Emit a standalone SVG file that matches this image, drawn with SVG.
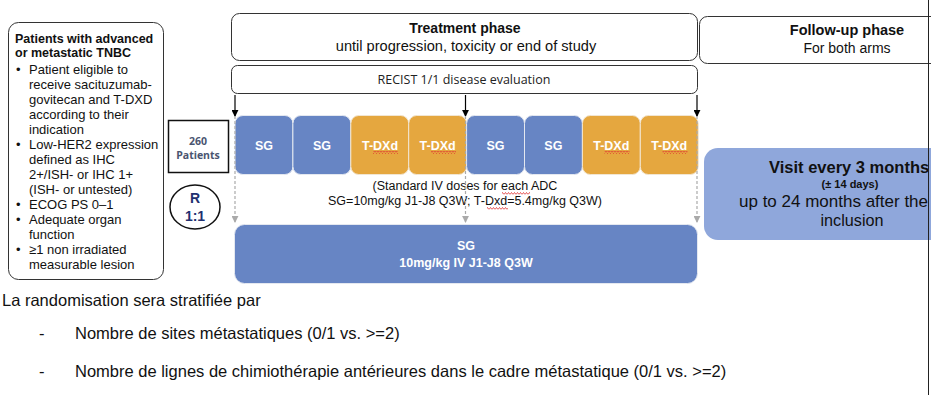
<svg xmlns="http://www.w3.org/2000/svg" width="931" height="395" viewBox="0 0 931 395">
<style>
text{font-family:"Liberation Sans",Arial,sans-serif;fill:#111}
.box{fill:#fff;stroke:#333;stroke-width:1}
.sg{fill:#6785C4;stroke:#E4E8F0;stroke-width:1}
.tdx{fill:#E5A73F;stroke:#F2E6D2;stroke-width:1}
.bl{font-weight:bold;font-size:12.5px;fill:#fff;text-anchor:middle}
.li{font-size:13px}
.bot{font-size:16.5px}
.blk{stroke:#000;stroke-width:1.2;fill:none}
.dash{stroke:#AAAAAA;stroke-width:1.2;stroke-dasharray:3 2;fill:none}
</style>
<defs>
<marker id="ah" viewBox="0 0 8 8" refX="7" refY="4" markerWidth="7" markerHeight="7" markerUnits="userSpaceOnUse" orient="auto"><path d="M0,0 L8,4 L0,8 Z" fill="#000"/></marker>
<marker id="ahg" viewBox="0 0 8 8" refX="7" refY="4" markerWidth="7" markerHeight="7" markerUnits="userSpaceOnUse" orient="auto"><path d="M0,0 L8,4 L0,8 Z" fill="#AAAAAA"/></marker>
<pattern id="wave" width="3" height="3" patternUnits="userSpaceOnUse"><path d="M0,2.5 L1.5,0.5 L3,2.5" stroke="#E03030" stroke-width="0.8" fill="none"/></pattern>
</defs>
<rect width="931" height="395" fill="#fff"/>

<g id="eligibility">
<rect class="box" x="8.5" y="22.5" width="155" height="257" rx="10"/>
<text x="15" y="43" font-weight="bold" font-size="12.5">Patients with advanced</text>
<text x="15" y="57" font-weight="bold" font-size="12.5">or metastatic TNBC</text>
<text x="16" y="74" class="li">•</text><text x="29" y="74" class="li">Patient eligible to</text>
<text x="29" y="89" class="li">receive sacituzumab-</text>
<text x="29" y="104" class="li">govitecan and T-DXD</text>
<text x="29" y="119" class="li">according to their</text>
<text x="29" y="134" class="li">indication</text>
<text x="16" y="149" class="li">•</text><text x="29" y="149" class="li">Low-HER2 expression</text>
<text x="29" y="164" class="li">defined as IHC</text>
<text x="29" y="179" class="li">2+/ISH- or IHC 1+</text>
<text x="29" y="194" class="li">(ISH- or untested)</text>
<text x="16" y="209" class="li">•</text><text x="29" y="209" class="li">ECOG PS 0–1</text>
<text x="16" y="224" class="li">•</text><text x="29" y="224" class="li">Adequate organ</text>
<text x="29" y="239" class="li">function</text>
<text x="16" y="254" class="li">•</text><text x="29" y="254" class="li">≥1 non irradiated</text>
<text x="29" y="269" class="li">measurable lesion</text>
</g>

<g id="patients">
<rect x="168.5" y="120.5" width="60" height="52" fill="#fff" stroke="#111" stroke-width="1.5"/>
<text x="198" y="145" text-anchor="middle" font-weight="bold" font-size="10.5" style="fill:#4A5570;font-family:'Open Sans',sans-serif">260</text>
<text x="198" y="159" text-anchor="middle" font-weight="bold" font-size="10.5" style="fill:#4A5570;font-family:'Open Sans',sans-serif">Patients</text>
</g>

<g id="randomisation">
<ellipse cx="195" cy="207" rx="25" ry="22" fill="#fff" stroke="#111" stroke-width="1.5"/>
<text x="195" y="203" text-anchor="middle" font-weight="bold" font-size="14" style="fill:#1F3070">R</text>
<text x="195" y="221" text-anchor="middle" font-weight="bold" font-size="14" style="fill:#1F3070">1:1</text>
</g>

<g id="treatment-phase">
<rect class="box" x="231.5" y="13.5" width="466" height="47" rx="8"/>
<text x="465" y="33" text-anchor="middle" font-weight="bold" font-size="14">Treatment phase</text>
<text x="466" y="51" text-anchor="middle" font-size="14.6">until progression, toxicity or end of study</text>
</g>

<g id="recist">
<rect class="box" x="231.5" y="65.5" width="466" height="28" rx="6"/>
<text x="464" y="84" text-anchor="middle" font-size="12.5" style="font-family:'Open Sans',sans-serif;fill:#222">RECIST 1/1 disease evaluation</text>
</g>

<g id="follow-up-phase">
<rect class="box" x="699.5" y="16.5" width="280" height="47" rx="8"/>
<text x="847" y="35" text-anchor="middle" font-weight="bold" font-size="14.5">Follow-up phase</text>
<text x="847" y="53" text-anchor="middle" font-size="14">For both arms</text>
</g>

<g id="experimental-arm">
<rect class="sg" x="235" y="115.5" width="57.9" height="59" rx="8"/>
<rect class="sg" x="292.9" y="115.5" width="57.9" height="59" rx="8"/>
<rect class="tdx" x="350.8" y="115.5" width="57.9" height="59" rx="8"/>
<rect class="tdx" x="408.7" y="115.5" width="57.9" height="59" rx="8"/>
<rect class="sg" x="466.6" y="115.5" width="57.9" height="59" rx="8"/>
<rect class="sg" x="524.5" y="115.5" width="57.9" height="59" rx="8"/>
<rect class="tdx" x="582.4" y="115.5" width="57.9" height="59" rx="8"/>
<rect class="tdx" x="640.3" y="115.5" width="57.9" height="59" rx="8"/>
<text class="bl" x="264" y="150">SG</text>
<text class="bl" x="322" y="150">SG</text>
<text class="bl" x="380" y="150">T-DXd</text>
<text class="bl" x="437.6" y="150">T-DXd</text>
<text class="bl" x="495.5" y="150">SG</text>
<text class="bl" x="553.4" y="150">SG</text>
<text class="bl" x="611.3" y="150">T-DXd</text>
<text class="bl" x="669.2" y="150">T-DXd</text>
<rect x="373" y="151" width="25" height="3" fill="url(#wave)"/>
<rect x="431" y="151" width="25" height="3" fill="url(#wave)"/>
<rect x="604.5" y="151" width="25" height="3" fill="url(#wave)"/>
<rect x="662.5" y="151" width="25" height="3" fill="url(#wave)"/>
<text x="465" y="190" text-anchor="middle" font-size="12.5">(Standard IV doses for each ADC</text>
<text x="465" y="205" text-anchor="middle" font-size="12.5">SG=10mg/kg J1-J8 Q3W; T-Dxd=5.4mg/kg Q3W)</text>
<rect x="502" y="192" width="28" height="3" fill="url(#wave)"/>
<rect x="487" y="207" width="21" height="3" fill="url(#wave)"/>
</g>

<g id="control-arm">
<rect class="sg" x="234.5" y="224.5" width="463" height="59" rx="10"/>
<text class="bl" x="466" y="250" font-size="12">SG</text>
<text class="bl" x="466" y="267" font-size="12">10mg/kg IV J1-J8 Q3W</text>
</g>

<g id="follow-up-visits">
<rect x="704" y="148" width="300" height="92" rx="14" fill="#8FA7DB"/>
<text x="769" y="173" font-weight="bold" font-size="16.5">Visit every 3 months</text>
<text x="850" y="188" text-anchor="middle" font-weight="bold" font-size="11">(± 14 days)</text>
<text x="739" y="207" font-size="17">up to 24 months after the</text>
<text x="852" y="226" text-anchor="middle" font-size="16.2">inclusion</text>
</g>

<g id="connectors">
<line class="blk" x1="235" y1="95" x2="235" y2="116" marker-end="url(#ah)"/>
<line class="blk" x1="465.5" y1="95" x2="465.5" y2="116" marker-end="url(#ah)"/>
<line class="blk" x1="697" y1="95" x2="697" y2="116" marker-end="url(#ah)"/>
<line class="dash" x1="235" y1="116" x2="235" y2="222" marker-end="url(#ahg)"/>
<line class="dash" x1="465.5" y1="116" x2="465.5" y2="222" marker-end="url(#ahg)"/>
<line class="dash" x1="697" y1="116" x2="697" y2="222" marker-end="url(#ahg)"/>
</g>

<line x1="928.5" y1="0" x2="928.5" y2="395" stroke="#222" stroke-width="1"/>

<g id="stratification">
<text class="bot" x="2" y="306">La randomisation sera stratifiée par</text>
<text class="bot" x="39" y="339">-</text>
<text class="bot" x="75" y="339">Nombre de sites métastatiques (0/1 vs. &gt;=2)</text>
<text class="bot" x="39" y="377">-</text>
<text class="bot" x="75" y="377">Nombre de lignes de chimiothérapie antérieures dans le cadre métastatique (0/1 vs. &gt;=2)</text>
</g>
</svg>
